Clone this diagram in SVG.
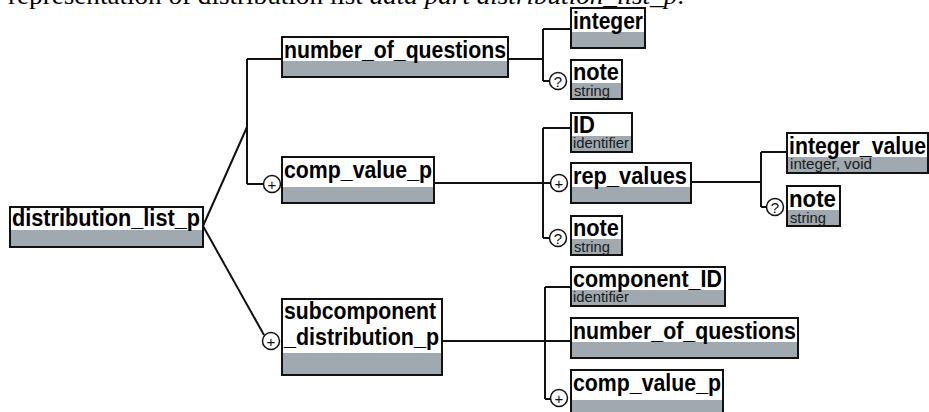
<svg xmlns="http://www.w3.org/2000/svg" width="929" height="412" viewBox="0 0 929 412">
<style>
.bg{fill:#fff}
.band{fill:#9fa9af}
.frame{fill:none;stroke:#111;stroke-width:2}
.t{font-family:"Liberation Sans",Arial,sans-serif;font-weight:bold;font-size:23px;fill:#000}
.s{font-family:"Liberation Sans",Arial,sans-serif;font-size:15.5px;fill:#1a1a1a}
.ln{stroke:#111;stroke-width:2;fill:none}
.c{fill:#fff;stroke:#111;stroke-width:1.5}
.ct{font-family:"Liberation Sans",Arial,sans-serif;font-size:15px;text-anchor:middle;fill:#111}
.cap{font-family:"Liberation Serif","Times New Roman",serif;font-size:26px;fill:#000}
</style>
<rect width="929" height="412" fill="#fff"/>
<text class="cap" x="8" y="4" textLength="676" lengthAdjust="spacingAndGlyphs">representation of distribution list <tspan font-style="italic">data part distribution_list_p</tspan>.</text>

<g id="connectors">
<path class="ln" d="M203,226 L247,127 M247,59 V184 M247,59 H282 M247,184 H263"/>
<path class="ln" d="M203,226 L264,335"/>
<path class="ln" d="M508,59 H543 M543,29 V81 M543,29 H571 M543,81 H550"/>
<path class="ln" d="M434,183 H550 M543,128 V238 M543,128 H571 M543,238 H550"/>
<path class="ln" d="M691,182 H761 M761,152 V207 M761,152 H787 M761,207 H767"/>
<path class="ln" d="M442,341 H571 M545,287 V399 M545,287 H571 M545,399 H551"/>
</g>

<g id="distribution_list_p">
<rect class="bg" x="10" y="207" width="193" height="40"/><rect class="band" x="10" y="230" width="193" height="17"/>
<rect class="frame" x="10" y="207" width="193" height="40"/>
<text class="t" x="12" y="226" textLength="188" lengthAdjust="spacingAndGlyphs">distribution_list_p</text>
</g>

<g id="number_of_questions">
<rect class="bg" x="282" y="37" width="226" height="40"/><rect class="band" x="282" y="61" width="226" height="16"/>
<rect class="frame" x="282" y="37" width="226" height="40"/>
<text class="t" x="284" y="58" textLength="222" lengthAdjust="spacingAndGlyphs">number_of_questions</text>
</g>

<g id="integer">
<rect class="bg" x="571" y="8" width="74" height="40"/><rect class="band" x="571" y="32" width="74" height="16"/>
<rect class="frame" x="571" y="8" width="74" height="40"/>
<text class="t" x="573" y="29" textLength="70" lengthAdjust="spacingAndGlyphs">integer</text>
</g>

<g id="note1">
<circle class="c" cx="558" cy="81" r="8.5"/><text class="ct" x="558" y="86.5">?</text>
<rect class="bg" x="571" y="60" width="51" height="39"/><rect class="band" x="571" y="83" width="51" height="16"/>
<rect class="frame" x="571" y="60" width="51" height="39"/>
<text class="t" x="573" y="80" textLength="46" lengthAdjust="spacingAndGlyphs">note</text><text class="s" x="574" y="96" textLength="36" lengthAdjust="spacingAndGlyphs">string</text>
</g>

<g id="comp_value_p">
<circle class="c" cx="272" cy="184" r="8.5"/><text class="ct" x="272" y="189.5">+</text>
<rect class="bg" x="282" y="157" width="152" height="46"/><rect class="band" x="282" y="187" width="152" height="16"/>
<rect class="frame" x="282" y="157" width="152" height="46"/>
<text class="t" x="284" y="178" textLength="148" lengthAdjust="spacingAndGlyphs">comp_value_p</text>
</g>

<g id="ID">
<rect class="bg" x="571" y="113" width="61" height="39"/><rect class="band" x="571" y="136" width="61" height="16"/>
<rect class="frame" x="571" y="113" width="61" height="39"/>
<text class="t" x="573" y="133" textLength="22" lengthAdjust="spacingAndGlyphs">ID</text><text class="s" x="573" y="148" textLength="56" lengthAdjust="spacingAndGlyphs">identifier</text>
</g>

<g id="rep_values">
<circle class="c" cx="559" cy="183" r="8.5"/><text class="ct" x="559" y="188.5">+</text>
<rect class="bg" x="571" y="163" width="120" height="40"/><rect class="band" x="571" y="187" width="120" height="16"/>
<rect class="frame" x="571" y="163" width="120" height="40"/>
<text class="t" x="573" y="184" textLength="114" lengthAdjust="spacingAndGlyphs">rep_values</text>
</g>

<g id="note2">
<circle class="c" cx="558" cy="238" r="8.5"/><text class="ct" x="558" y="243.5">?</text>
<rect class="bg" x="571" y="216" width="51" height="39"/><rect class="band" x="571" y="239" width="51" height="16"/>
<rect class="frame" x="571" y="216" width="51" height="39"/>
<text class="t" x="573" y="236" textLength="46" lengthAdjust="spacingAndGlyphs">note</text><text class="s" x="574" y="252" textLength="36" lengthAdjust="spacingAndGlyphs">string</text>
</g>

<g id="integer_value">
<rect class="bg" x="787" y="133" width="141" height="40"/><rect class="band" x="787" y="157" width="141" height="16"/>
<rect class="frame" x="787" y="133" width="141" height="40"/>
<text class="t" x="789" y="154" textLength="137" lengthAdjust="spacingAndGlyphs">integer_value</text><text class="s" x="790" y="169" textLength="82" lengthAdjust="spacingAndGlyphs">integer, void</text>
</g>

<g id="note3">
<circle class="c" cx="775" cy="207" r="8.5"/><text class="ct" x="775" y="212.5">?</text>
<rect class="bg" x="787" y="186" width="53" height="40"/><rect class="band" x="787" y="210" width="53" height="16"/>
<rect class="frame" x="787" y="186" width="53" height="40"/>
<text class="t" x="789" y="207" textLength="47" lengthAdjust="spacingAndGlyphs">note</text><text class="s" x="790" y="223" textLength="36" lengthAdjust="spacingAndGlyphs">string</text>
</g>

<g id="subcomponent_distribution_p">
<circle class="c" cx="271" cy="341" r="8.5"/><text class="ct" x="271" y="346.5">+</text>
<rect class="bg" x="282" y="299" width="160" height="76"/><rect class="band" x="282" y="353" width="160" height="22"/>
<rect class="frame" x="282" y="299" width="160" height="76"/>
<text class="t" x="284" y="319" textLength="152" lengthAdjust="spacingAndGlyphs">subcomponent</text><text class="t" x="284" y="345" textLength="155" lengthAdjust="spacingAndGlyphs">_distribution_p</text>
</g>

<g id="component_ID">
<rect class="bg" x="571" y="267" width="154" height="39"/><rect class="band" x="571" y="290" width="154" height="16"/>
<rect class="frame" x="571" y="267" width="154" height="39"/>
<text class="t" x="573" y="287" textLength="149" lengthAdjust="spacingAndGlyphs">component_ID</text><text class="s" x="573" y="302" textLength="56" lengthAdjust="spacingAndGlyphs">identifier</text>
</g>

<g id="number_of_questions2">
<rect class="bg" x="571" y="318" width="227" height="40"/><rect class="band" x="571" y="342" width="227" height="16"/>
<rect class="frame" x="571" y="318" width="227" height="40"/>
<text class="t" x="573" y="339" textLength="223" lengthAdjust="spacingAndGlyphs">number_of_questions</text>
</g>

<g id="comp_value_p2">
<circle class="c" cx="559" cy="398" r="8.5"/><text class="ct" x="559" y="403.5">+</text>
<rect class="bg" x="571" y="370" width="152" height="46"/><rect class="band" x="571" y="400" width="152" height="16"/>
<rect class="frame" x="571" y="370" width="152" height="46"/>
<text class="t" x="573" y="391" textLength="148" lengthAdjust="spacingAndGlyphs">comp_value_p</text>
</g>
</svg>
